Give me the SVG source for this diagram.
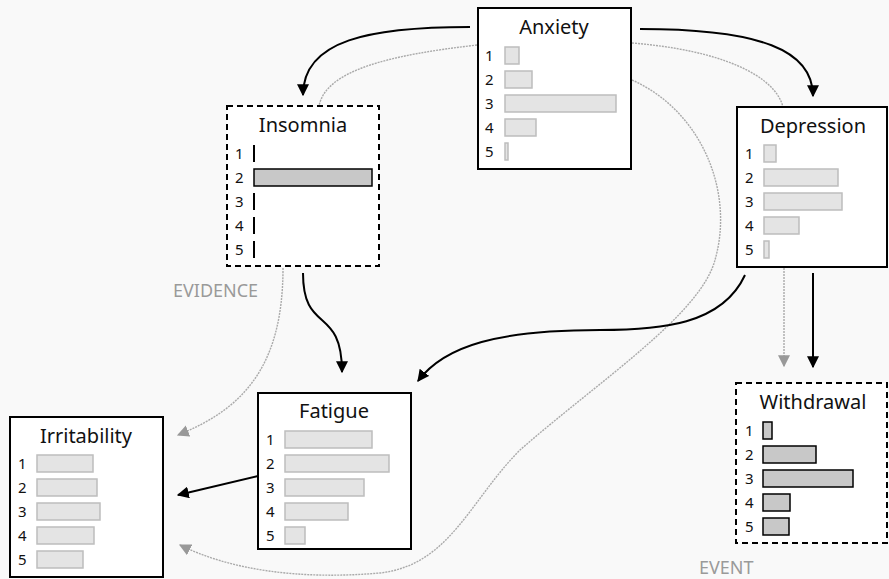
<svg xmlns="http://www.w3.org/2000/svg" width="889" height="579" viewBox="0 0 889 579">
  <defs>
    <marker id="arrow" viewBox="0 0 10 10" refX="9" refY="5" markerWidth="12" markerHeight="12" markerUnits="userSpaceOnUse" orient="auto">
      <path d="M0,0 L10,5 L0,10 z" fill="#000"/>
    </marker>
    <marker id="arrow-grey" viewBox="0 0 10 10" refX="9" refY="5" markerWidth="12" markerHeight="12" markerUnits="userSpaceOnUse" orient="auto">
      <path d="M0,0 L10,5 L0,10 z" fill="#999"/>
    </marker>
    <style>
      .box { fill: #fff; stroke: #000; stroke-width: 2; }
      .box.observed { stroke-dasharray: 6 4; }
      .title { font-family: "Noto Sans", "DejaVu Sans", sans-serif; font-size: 20px; fill: #111; text-anchor: middle; }
      .num { font-family: "Noto Sans", "DejaVu Sans", sans-serif; font-size: 15px; fill: #111; dominant-baseline: central; }
      .bar { fill: #e4e4e4; stroke: #bdbdbd; stroke-width: 1.5; }
      .bar.set { fill: #c8c8c8; stroke: #000; stroke-width: 1.5; }
      .zero { stroke: #000; stroke-width: 2; }
      .edge { fill: none; stroke: #000; stroke-width: 2; }
      .flow { fill: none; stroke: #aaa; stroke-width: 1.4; stroke-dasharray: 2 1; }
      .tag { font-family: "Noto Sans", "DejaVu Sans", sans-serif; font-size: 18px; fill: #9a9a9a; }
    </style>
  </defs>

  <rect width="889" height="579" fill="#f9f9f9"/>

  <!-- connectors -->
  <g id="connectors">
    <path class="flow" d="M477,45 C 390,55 326,70 319,106"/>
    <path class="flow" d="M632,43 C 720,50 775,75 783,107"/>
    <path class="flow" d="M632,80 C 700,110 735,190 715,260 C 700,315 600,380 520,450 C 470,500 450,565 380,573 C 300,580 230,570 180,545" marker-end="url(#arrow-grey)"/>
    <path class="flow" d="M283,268 C 283,370 240,410 178,435" marker-end="url(#arrow-grey)"/>
    <path class="flow" d="M784,268 L784,366" marker-end="url(#arrow-grey)"/>
    <path class="edge" d="M470,27 C 370,27 303,40 303,95" marker-end="url(#arrow)"/>
    <path class="edge" d="M640,29 C 760,29 813,50 813,96" marker-end="url(#arrow)"/>
    <path class="edge" d="M303,273 C 303,335 342,305 342,372" marker-end="url(#arrow)"/>
    <path class="edge" d="M745,275 C 722,325 660,330 600,330 C 500,330 445,345 418,381" marker-end="url(#arrow)"/>
    <path class="edge" d="M813,273 L813,367" marker-end="url(#arrow)"/>
    <path class="edge" d="M258,476 L178,495" marker-end="url(#arrow)"/>
  </g>

  <!-- Anxiety -->
  <g id="node-anxiety">
    <rect class="box" x="478" y="8" width="153" height="161"/>
    <text class="title" x="554" y="34">Anxiety</text>
    <text class="num" x="485" y="55">1</text>
    <text class="num" x="485" y="79">2</text>
    <text class="num" x="485" y="103">3</text>
    <text class="num" x="485" y="127">4</text>
    <text class="num" x="485" y="151">5</text>
    <rect class="bar" x="505" y="47" width="14" height="17"/>
    <rect class="bar" x="505" y="71" width="27" height="17"/>
    <rect class="bar" x="505" y="95" width="111" height="17"/>
    <rect class="bar" x="505" y="119" width="31" height="17"/>
    <rect class="bar" x="505" y="143" width="3" height="17"/>
  </g>

  <!-- Insomnia -->
  <g id="node-insomnia">
    <rect class="box observed" x="227" y="106" width="152" height="160"/>
    <text class="title" x="303" y="132">Insomnia</text>
    <text class="num" x="235" y="153">1</text>
    <text class="num" x="235" y="177">2</text>
    <text class="num" x="235" y="201">3</text>
    <text class="num" x="235" y="225">4</text>
    <text class="num" x="235" y="249">5</text>
    <line class="zero" x1="254" y1="145" x2="254" y2="162"/>
    <rect class="bar set" x="254" y="169" width="118" height="17"/>
    <line class="zero" x1="254" y1="193" x2="254" y2="210"/>
    <line class="zero" x1="254" y1="217" x2="254" y2="234"/>
    <line class="zero" x1="254" y1="241" x2="254" y2="258"/>
  </g>

  <!-- Depression -->
  <g id="node-depression">
    <rect class="box" x="737" y="107" width="150" height="160"/>
    <text class="title" x="813" y="133">Depression</text>
    <text class="num" x="745" y="153">1</text>
    <text class="num" x="745" y="177">2</text>
    <text class="num" x="745" y="201">3</text>
    <text class="num" x="745" y="225">4</text>
    <text class="num" x="745" y="249">5</text>
    <rect class="bar" x="764" y="145" width="12" height="17"/>
    <rect class="bar" x="764" y="169" width="74" height="17"/>
    <rect class="bar" x="764" y="193" width="78" height="17"/>
    <rect class="bar" x="764" y="217" width="35" height="17"/>
    <rect class="bar" x="764" y="241" width="5" height="17"/>
  </g>

  <!-- Fatigue -->
  <g id="node-fatigue">
    <rect class="box" x="258" y="393" width="153" height="156"/>
    <text class="title" x="334" y="418">Fatigue</text>
    <text class="num" x="266" y="439">1</text>
    <text class="num" x="266" y="463">2</text>
    <text class="num" x="266" y="487">3</text>
    <text class="num" x="266" y="511">4</text>
    <text class="num" x="266" y="535">5</text>
    <rect class="bar" x="285" y="431" width="87" height="17"/>
    <rect class="bar" x="285" y="455" width="104" height="17"/>
    <rect class="bar" x="285" y="479" width="79" height="17"/>
    <rect class="bar" x="285" y="503" width="63" height="17"/>
    <rect class="bar" x="285" y="527" width="20" height="17"/>
  </g>

  <!-- Irritability -->
  <g id="node-irritability">
    <rect class="box" x="10" y="417" width="153" height="160"/>
    <text class="title" x="86" y="443">Irritability</text>
    <text class="num" x="18" y="463">1</text>
    <text class="num" x="18" y="487">2</text>
    <text class="num" x="18" y="511">3</text>
    <text class="num" x="18" y="535">4</text>
    <text class="num" x="18" y="559">5</text>
    <rect class="bar" x="37" y="455" width="56" height="17"/>
    <rect class="bar" x="37" y="479" width="60" height="17"/>
    <rect class="bar" x="37" y="503" width="63" height="17"/>
    <rect class="bar" x="37" y="527" width="57" height="17"/>
    <rect class="bar" x="37" y="551" width="46" height="17"/>
  </g>

  <!-- Withdrawal -->
  <g id="node-withdrawal">
    <rect class="box observed" x="736" y="383" width="151" height="160"/>
    <text class="title" x="813" y="409">Withdrawal</text>
    <text class="num" x="745" y="430">1</text>
    <text class="num" x="745" y="454">2</text>
    <text class="num" x="745" y="478">3</text>
    <text class="num" x="745" y="502">4</text>
    <text class="num" x="745" y="526">5</text>
    <rect class="bar set" x="763" y="422" width="9" height="17"/>
    <rect class="bar set" x="763" y="446" width="53" height="17"/>
    <rect class="bar set" x="763" y="470" width="90" height="17"/>
    <rect class="bar set" x="763" y="494" width="27" height="17"/>
    <rect class="bar set" x="763" y="518" width="26" height="17"/>
  </g>

  <text class="tag" x="173" y="297">EVIDENCE</text>
  <text class="tag" x="699" y="574">EVENT</text>
</svg>
